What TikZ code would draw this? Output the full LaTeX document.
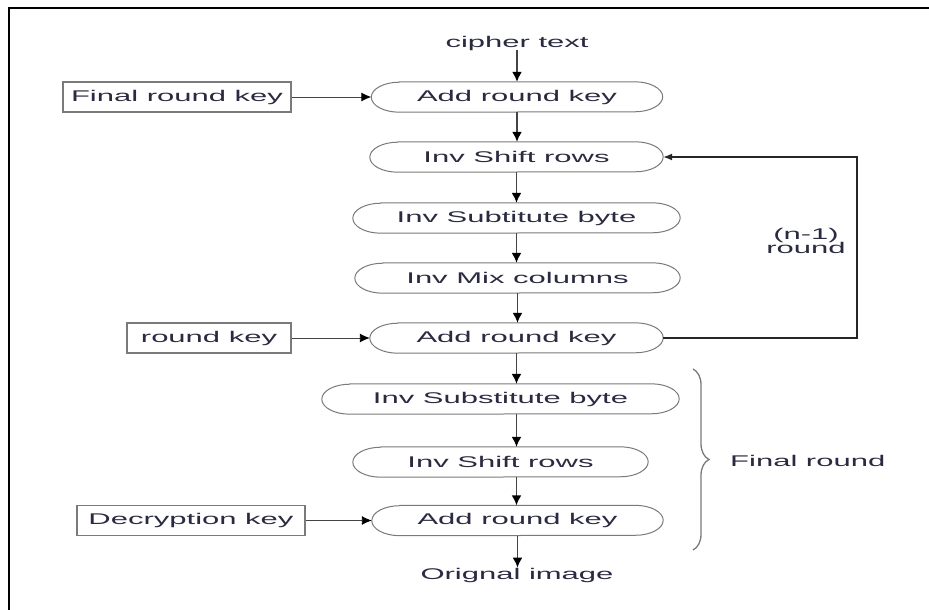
\documentclass[tikz,border=0pt]{standalone}
\usepackage{fontspec}
\setmainfont{Liberation Sans}
\newfontfamily\widesans[FakeStretch=2.0]{Liberation Sans}
\usetikzlibrary{arrows.meta,decorations.pathreplacing}
\definecolor{txt}{HTML}{2A2A40}
\definecolor{edgegray}{HTML}{7A7A7A}
\definecolor{flow}{HTML}{444444}
\begin{document}
\begin{tikzpicture}[x=1pt,y=-1pt,
  lbl/.style={font=\widesans\fontsize{15.5}{17}\selectfont, text=txt, inner sep=0pt},
  ovalnode/.style={lbl, minimum height=30pt},
  keybox/.style={lbl, draw=edgegray, line width=1.3pt, minimum height=30pt},
  ovalline/.style={draw=edgegray, line width=1pt},
  flowarrow/.style={draw=flow, line width=1.6pt, -{Latex[length=10pt,width=10pt,color=black]}},
  keyarrow/.style={draw=flow, line width=0.9pt, -{Latex[length=10pt,width=9pt,color=black]}},
  loopline/.style={draw=black!85, line width=1.3pt, -{Latex[length=9pt,width=7pt]}}]
  % page extent and frame
  \useasboundingbox (0,0) rectangle (929,610);
  \fill[white] (0,0) rectangle (929,610);
  \draw[line width=2.2pt] (9,610) -- (9,8) -- (929,8);

  % main column
  \node[lbl] (ct) at (517,43) {cipher text};
  \node[ovalnode, minimum width=291pt] (ark1) at (517,97) {Add round key};
  \node[ovalnode, minimum width=293pt] (isr1) at (516.5,157) {Inv Shift rows};
  \node[ovalnode, minimum width=327pt] (isb1) at (516.5,218) {Inv Subtitute byte};
  \node[ovalnode, minimum width=325pt] (imc) at (517.5,278) {Inv Mix columns};
  \node[ovalnode, minimum width=293pt] (ark2) at (516.5,338) {Add round key};
  \node[ovalnode, minimum width=357pt] (isb2) at (500.5,399) {Inv Substitute byte};
  \node[ovalnode, minimum width=295pt] (isr2) at (500.5,462) {Inv Shift rows};
  \node[ovalnode, minimum width=291pt] (ark3) at (517.5,520.5) {Add round key};
  \node[lbl] (oi) at (517,575) {Orignal image};

  % stadium outlines with elliptical end caps
  \foreach \n in {ark1,isr1,isb1,imc,ark2,isb2,isr2,ark3}{
    \draw[ovalline] ([xshift=28pt]\n.north west) -- ([xshift=-28pt]\n.north east)
      arc[start angle=90,end angle=-90,x radius=28pt,y radius=15pt]
      -- ([xshift=28pt]\n.south west)
      arc[start angle=270,end angle=90,x radius=28pt,y radius=15pt] -- cycle;
  }

  % key inputs
  \node[keybox, minimum width=228pt] (frk) at (177,97) {Final round key};
  \node[keybox, minimum width=164pt] (rk) at (209,338) {round key};
  \node[keybox, minimum width=228pt] (dk) at (191,520.5) {Decryption key};

  % flow arrows
  \draw[flowarrow] (ct.south) -- (ct.south |- ark1.north);
  \draw[flowarrow] (ark1.south) -- (ark1.south |- isr1.north);
  \draw[flowarrow] (isr1.south) -- (isr1.south |- isb1.north);
  \draw[flowarrow] (isb1.south) -- (isb1.south |- imc.north);
  \draw[flowarrow] (imc.south) -- (imc.south |- ark2.north);
  \draw[flowarrow] (ark2.south) -- (ark2.south |- isb2.north);
  \draw[flowarrow] (ark2.south |- isb2.south) -- (ark2.south |- isr2.north);
  \draw[flowarrow] (ark2.south |- isr2.south) -- (ark2.south |- ark3.north);
  \draw[flowarrow] (ark3.south) -- (ark3.south |- oi.north);

  \draw[keyarrow] (frk.east) -- (ark1.west);
  \draw[keyarrow] (rk.east) -- (ark2.west);
  \draw[keyarrow] (dk.east) -- (ark3.west);

  % (n-1) round feedback loop
  \coordinate (loopR) at (857,250);
  \draw[loopline] (ark2.east) -| (loopR) |- (isr1.east);
  \node[lbl, align=center] (nround) at (806,241) {(n-1)\\[-3pt]round};

  % final round brace
  \coordinate (brTop) at (693,369);
  \coordinate (brBot) at (693,550);
  \draw[edgegray, line width=1.3pt, decorate,
        decoration={brace, amplitude=16pt}] (brTop) -- (brBot);
  \node[lbl, anchor=west] (fr) at (730,461) {Final round};
\end{tikzpicture}
\end{document}
